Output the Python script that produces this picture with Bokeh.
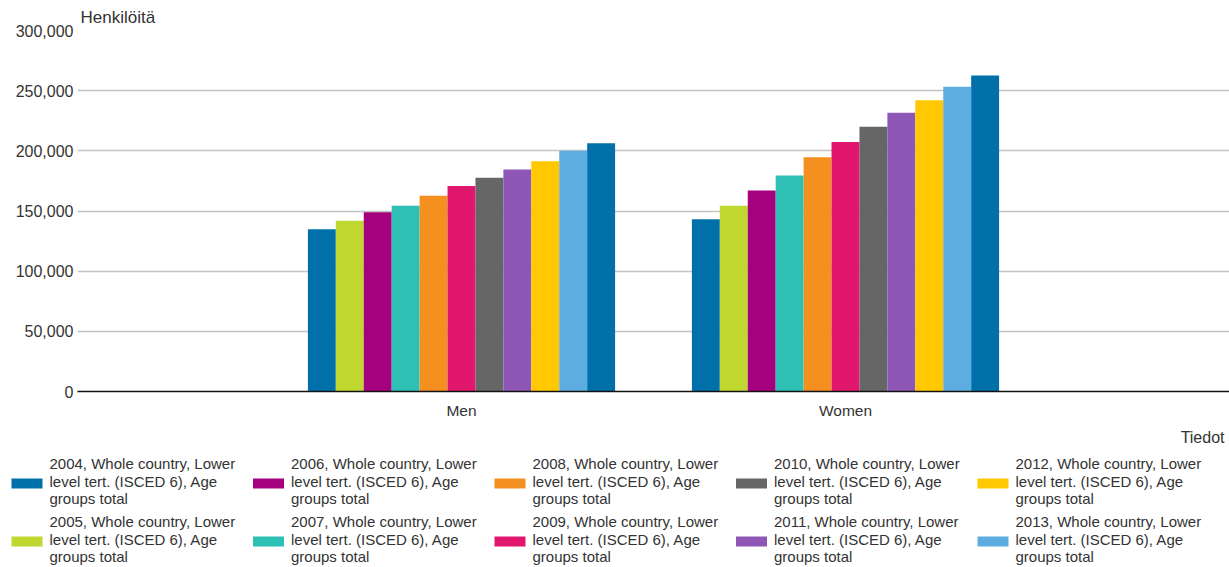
import textwrap
from bokeh.plotting import figure
from bokeh.models import (ColumnDataSource, FactorRange, Range1d, NumeralTickFormatter,
                          FixedTicker, Title)
from bokeh.transform import dodge
from bokeh.layouts import column
from bokeh.embed import file_html
from bokeh.resources import INLINE
from bokeh.core.properties import value

# ---- data ----
categories = ["Men", "Women"]
years = ["2004", "2005", "2006", "2007", "2008", "2009", "2010", "2011", "2012", "2013", "2014"]
men = [134800, 141900, 148900, 154400, 162700, 170700, 177600, 184500, 191400, 200000, 206300]
women = [143100, 154400, 167100, 179500, 194700, 207400, 220100, 231700, 242000, 253300, 262700]
colors = ["#0070ab", "#bfd72f", "#a5007e", "#2ec0b5", "#f39020", "#e0176d", "#666666",
          "#8e57b5", "#ffc800", "#5eade0", "#0070ab"]
legend_years = years[:10]
y_ticks = [0, 50000, 100000, 150000, 200000, 250000, 300000]
y_title = "Henkilöitä"
x_title = "Tiedot"

FONT = "Liberation Sans"
TXT = "#333333"

p = figure(width=1229, height=450, x_range=FactorRange(factors=categories, range_padding=0.5,
                                                        range_padding_units="absolute"),
           y_range=Range1d(0, 300000), output_backend="svg", toolbar_location=None,
           min_border_left=77, min_border_right=0, min_border_top=30, min_border_bottom=58)
p.outline_line_color = None
p.background_fill_color = "white"
p.frame_align = False

n = len(years)
bw = 0.8 / n
for i, yr in enumerate(years):
    src = ColumnDataSource(dict(cat=categories, val=[men[i], women[i]]))
    off = (i - (n - 1) / 2) * bw
    p.vbar(x=dodge("cat", off, range=p.x_range), top="val", width=bw, source=src,
           fill_color=colors[i], line_color=None)

p.yaxis.ticker = FixedTicker(ticks=y_ticks)
p.yaxis.formatter = NumeralTickFormatter(format="0,0")
p.yaxis.axis_line_color = None
p.yaxis.major_tick_line_color = None
p.yaxis.major_tick_out = 0
p.yaxis.major_tick_in = 0
p.yaxis.minor_tick_line_color = None
p.yaxis.major_label_text_font = FONT
p.yaxis.major_label_text_font_size = "16px"
p.yaxis.major_label_text_color = TXT
p.yaxis.major_label_standoff = 4

p.xaxis.axis_line_color = "#111111"
p.xaxis.axis_line_width = 1.3
p.xaxis.major_tick_line_color = None
p.xaxis.major_tick_out = 0
p.xaxis.major_tick_in = 0
p.xaxis.major_label_text_font = FONT
p.xaxis.major_label_text_font_size = "15.5px"
p.xaxis.major_label_text_color = TXT
p.xaxis.major_label_standoff = 10

p.xgrid.grid_line_color = None
p.ygrid.grid_line_color = "#c4c4c4"
p.ygrid.grid_line_width = 1.3

p.title.text = y_title
p.title.align = "left"
p.title.text_font = FONT
p.title.text_font_size = "17px"
p.title.text_font_style = "normal"
p.title.text_color = TXT
p.title.offset = 3
p.title.standoff = 8

p.add_layout(Title(text=x_title, align="right", text_font=FONT, text_font_size="16px",
                   text_font_style="normal", text_color=TXT, offset=5), "below")

# ---- legend (separate strip) ----
lg = figure(width=1229, height=117, x_range=Range1d(0, 1229), y_range=Range1d(117, 0),
            output_backend="svg", toolbar_location=None, min_border=0)
lg.frame_align = False
lg.axis.visible = False
lg.grid.visible = False
lg.outline_line_color = None

col_w = 241.5
sx, tx, sy, sh, sw = 11, 49, 28, 10, 31
row_h, line_h, line0 = 58, 17.5, 13
sw_l, sw_r, sw_t, sw_b, sw_c = [], [], [], [], []
tx_x, tx_y, tx_t = [], [], []
for i, yr in enumerate(legend_years):
    c, r = i // 2, i % 2
    sw_l.append(sx + c * col_w)
    sw_r.append(sx + c * col_w + sw)
    sw_t.append(sy + r * row_h)
    sw_b.append(sy + r * row_h + sh)
    sw_c.append(colors[i])
    label = f"{yr}, Whole country, Lower level tert. (ISCED 6), Age groups total"
    for k, line in enumerate(textwrap.wrap(label, 26)):
        tx_x.append(tx + c * col_w)
        tx_y.append(line0 + r * row_h + k * line_h)
        tx_t.append(line)

lg.quad(left=sw_l, right=sw_r, top=sw_t, bottom=sw_b, fill_color=sw_c, line_color=None)
lg.text(x=tx_x, y=tx_y, text=tx_t, text_font=value(FONT), text_font_size="15px",
        text_color=TXT, text_baseline="middle", text_align="left")

layout = column(p, lg, spacing=0)
open("out.html", "w").write(file_html(layout, INLINE))
